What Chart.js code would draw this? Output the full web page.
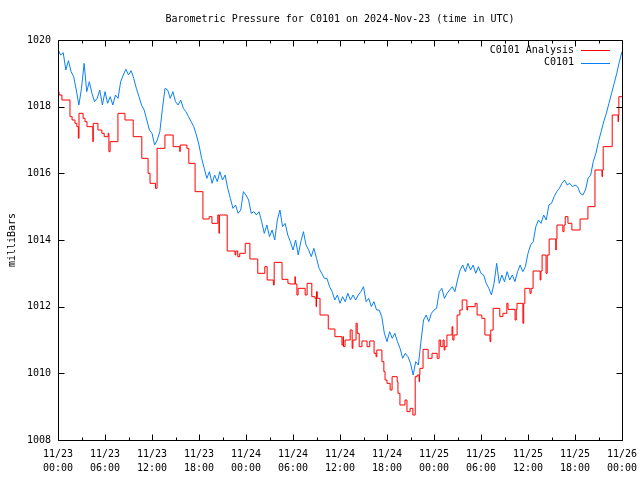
<!DOCTYPE html>
<html>
<head>
<meta charset="utf-8">
<script src="https://cdn.jsdelivr.net/npm/chart.js@4/dist/chart.umd.min.js"></script>
<style>
html,body{margin:0;padding:0;background:#fff;}
canvas{display:block;}
</style>
</head>
<body>
<canvas id="c" width="640" height="480"></canvas>
<script>
const titleText="Barometric Pressure for C0101 on 2024-Nov-23 (time in UTC)";
const yTitle="milliBars";
const xDates=["11/23","11/23","11/23","11/23","11/24","11/24","11/24","11/24","11/25","11/25","11/25","11/25","11/26"];
const xTimes=["00:00","06:00","12:00","18:00","00:00","06:00","12:00","18:00","00:00","06:00","12:00","18:00","00:00"];
const seriesNames=["C0101 Analysis","C0101"];

/* analysis: hours since 11/23 00:00 where the step changes, and the value held from there */
const redHours=[0,0.13,0.5,1.53,1.8,2.17,2.4,2.6,2.68,3.2,
3.45,3.7,4.45,4.5,5.1,5.6,5.9,6.4,6.5,6.65,
7.65,8.55,9.6,10.7,11.5,11.75,12.45,12.65,13.65,14.7,
15.55,15.6,16.45,16.7,17.5,18.5,19.3,19.65,20.4,20.55,
20.6,21.6,22.6,22.7,22.95,23.2,23.9,24.5,25.5,26.4,
26.7,27.5,27.6,28.6,29.35,29.6,30.25,30.3,30.5,30.65,
31.55,31.8,32.4,32.8,32.95,33.0,33.1,33.45,34.5,35.35,
36.25,36.4,36.45,36.65,37.3,37.55,37.65,38.05,38.2,38.45,
38.8,39.45,39.8,40.35,40.6,40.7,41.35,41.6,41.75,42.0,
42.4,42.65,43.3,43.4,43.65,44.3,44.55,44.95,45.3,45.6,
45.85,46.1,46.15,46.2,46.6,47.25,47.75,48.4,48.65,48.85,
49.15,49.3,49.4,49.65,50.3,50.4,50.55,50.95,51.3,51.6,
52.2,52.3,53.25,53.5,54.1,54.5,55.15,55.25,55.55,56.4,
56.8,57.3,57.45,58.35,58.5,58.6,59.35,59.45,59.6,60.25,
60.4,60.65,61.55,61.65,61.8,62.3,62.45,62.7,63.55,63.6,
63.7,64.45,64.6,64.75,65.1,65.6,66.65,67.65,68.55,69.45,
69.5,69.6,70.75,71.5,71.55,71.6,72];
const redValues=[1018.45,1018.35,1018.2,1017.7,1017.6,1017.5,1017.4,1017.05,1017.8,1017.65,
1017.55,1017.4,1016.95,1017.5,1017.3,1017.2,1017.1,1017.2,1016.65,1016.95,
1017.8,1017.6,1017.1,1016.45,1016.0,1015.7,1015.55,1016.75,1017.15,1016.8,
1016.65,1016.85,1016.75,1016.3,1015.45,1014.63,1014.7,1014.5,1014.75,1014.2,
1014.75,1013.67,1013.55,1013.67,1013.5,1013.6,1013.9,1013.43,1013.0,1013.2,
1012.8,1012.65,1013.33,1012.82,1012.7,1012.68,1012.9,1012.68,1012.35,1012.55,
1012.35,1012.7,1012.3,1012.25,1012.0,1012.45,1012.25,1011.75,1011.33,1011.1,
1010.85,1011.1,1010.8,1011.0,1011.3,1010.75,1011.0,1011.5,1011.2,1010.8,
1010.97,1010.8,1010.97,1010.6,1010.5,1010.7,1010.35,1010.05,1009.8,1009.7,
1009.5,1009.9,1009.75,1009.4,1009.05,1009.2,1008.85,1008.95,1008.75,1009.9,
1009.95,1009.75,1009.95,1010.15,1010.72,1010.45,1010.6,1010.45,1011.0,1010.8,
1011.0,1010.7,1010.8,1011.15,1011.4,1011.0,1011.15,1011.75,1011.9,1012.2,
1011.9,1012.0,1012.1,1011.75,1011.65,1011.15,1010.95,1011.3,1011.95,1011.7,
1011.8,1012.1,1011.92,1011.6,1011.92,1012.1,1011.5,1012.1,1012.55,1012.4,
1012.55,1013.07,1012.8,1013.07,1013.55,1013.0,1013.55,1014.03,1013.7,1014.03,
1014.45,1014.25,1014.45,1014.7,1014.5,1014.3,1014.63,1015.0,1016.1,1015.9,
1016.1,1016.8,1017.75,1017.55,1017.75,1018.3,1018.3];

/* station: one value every 20 minutes, one row per hour */
const blueStep=1/3;
const blueValues=[
1019.72,1019.55,1019.62,
1019.1,1019.38,1019.05,
1018.9,1018.5,1018.05,
1018.55,1019.3,1018.45,
1018.75,1018.4,1018.15,
1018.25,1018.5,1018.05,
1018.45,1018.1,1018.3,
1018.05,1018.35,1018.25,
1018.75,1018.95,1019.12,
1018.95,1019.08,1018.85,
1018.55,1018.3,1018.05,
1017.9,1017.6,1017.3,
1017.2,1016.85,1017.0,
1017.25,1017.95,1018.55,
1018.5,1018.25,1018.45,
1018.15,1018.05,1018.2,
1017.95,1017.85,1017.7,
1017.55,1017.4,1017.15,
1016.85,1016.45,1016.15,
1015.85,1016.05,1015.7,
1015.95,1015.75,1016.05,
1015.8,1015.95,1015.55,
1015.25,1014.95,1015.05,
1014.8,1014.9,1015.45,
1015.35,1015.2,1014.8,
1014.85,1014.75,1014.85,
1014.55,1014.2,1014.45,
1014.1,1014.3,1014.0,
1014.6,1014.9,1014.4,
1014.5,1014.15,1013.95,
1013.7,1014.0,1013.55,
1013.95,1014.25,1013.85,
1013.7,1013.5,1013.75,
1013.45,1013.15,1013.0,
1012.85,1012.85,1012.6,
1012.45,1012.2,1012.35,
1012.1,1012.3,1012.15,
1012.4,1012.2,1012.35,
1012.2,1012.35,1012.45,
1012.6,1012.15,1012.25,
1012.0,1012.15,1011.9,
1011.9,1011.7,1011.2,
1010.95,1011.25,1011.05,
1011.2,1010.95,1010.75,
1010.45,1010.6,1010.5,
1010.3,1009.95,1010.35,
1010.25,1010.95,1011.6,
1011.75,1011.55,1011.8,
1011.9,1011.95,1012.45,
1012.55,1012.25,1012.4,
1012.5,1012.6,1012.45,
1012.8,1013.1,1013.25,
1013.05,1013.3,1013.1,
1013.25,1013.0,1013.2,
1013.0,1012.95,1012.7,
1012.55,1012.35,1012.7,
1013.3,1012.7,1012.95,
1012.75,1013.05,1012.8,
1012.95,1012.75,1013.05,
1013.25,1013.05,1013.2,
1013.6,1013.85,1013.95,
1014.4,1014.6,1014.5,
1014.75,1014.6,1015.05,
1015.1,1015.3,1015.45,
1015.55,1015.7,1015.8,
1015.65,1015.7,1015.6,
1015.65,1015.6,1015.4,
1015.35,1015.5,1015.85,
1015.95,1016.35,1016.6,
1016.95,1017.25,1017.55,
1017.8,1018.1,1018.4,
1018.7,1019.0,1019.35,
1019.65];

const redColor="#ff0000";
const blueColor="#0a80f5";
const monoFont="'DejaVu Sans Mono','Liberation Mono',monospace";

const redPts=redHours.map((h,i)=>({x:h,y:redValues[i]}));
const bluePts=blueValues.map((v,i)=>({x:i*blueStep,y:v}));

/* frame, inward ticks, title, legend and y title like the original plot */
const decor={
id:"decor",
afterDraw(chart){
const ctx=chart.ctx,a=chart.chartArea,xs=chart.scales.x,ys=chart.scales.y;
const L=Math.round(a.left)+0.5,R=Math.round(a.right)+0.5,T=Math.round(a.top)+0.5,B=Math.round(a.bottom)+0.5;
ctx.save();
ctx.strokeStyle="#000";
ctx.lineWidth=1;
ctx.beginPath();
ctx.rect(L,T,R-L,B-T);
xs.ticks.forEach(t=>{
let px=Math.round(xs.getPixelForValue(t.value))+0.5;
ctx.moveTo(px,B);ctx.lineTo(px,B-6);
ctx.moveTo(px,T);ctx.lineTo(px,T+6);
if(t.value+3<xs.max){
let pm=Math.round(xs.getPixelForValue(t.value+3))+0.5;
ctx.moveTo(pm,B);ctx.lineTo(pm,B-3);
ctx.moveTo(pm,T);ctx.lineTo(pm,T+3);
}
});
ys.ticks.forEach(t=>{
let py=Math.round(ys.getPixelForValue(t.value))+0.5;
ctx.moveTo(L,py);ctx.lineTo(L+6,py);
ctx.moveTo(R,py);ctx.lineTo(R-6,py);
});
ctx.stroke();

ctx.fillStyle="#000";
ctx.font="10px "+monoFont;
ctx.textAlign="center";
ctx.textBaseline="middle";
ctx.fillText(titleText,(a.left+a.right)/2,19);

ctx.save();
ctx.translate(12,(a.top+a.bottom)/2);
ctx.rotate(-Math.PI/2);
ctx.fillText(yTitle,0,0);
ctx.restore();

ctx.textAlign="right";
[redColor,blueColor].forEach((col,i)=>{
let y=50+i*12.5;
ctx.fillStyle="#000";
ctx.fillText(seriesNames[i],574,y);
ctx.strokeStyle=col;
ctx.beginPath();
ctx.moveTo(581,Math.round(y)+0.5);
ctx.lineTo(610,Math.round(y)+0.5);
ctx.stroke();
});
ctx.restore();
}
};

new Chart(document.getElementById("c"),{
type:"line",
data:{datasets:[
{label:seriesNames[1],data:bluePts,borderColor:blueColor,borderWidth:1,pointRadius:0,tension:0},
{label:seriesNames[0],data:redPts,borderColor:redColor,borderWidth:1,pointRadius:0,stepped:true}
]},
options:{
responsive:false,
animation:false,
devicePixelRatio:1,
layout:{padding:{top:40,right:18,left:0,bottom:0}},
plugins:{legend:{display:false},title:{display:false},tooltip:{enabled:false}},
scales:{
x:{type:"linear",min:0,max:72,
grid:{display:false,drawTicks:false},border:{display:false},
ticks:{stepSize:6,autoSkip:false,maxRotation:0,padding:7,color:"#000",
font:{family:monoFont,size:10,lineHeight:1.4},
callback:v=>[xDates[v/6],xTimes[v/6]]},
afterFit(s){s.height=40;s.paddingLeft=0;s.paddingRight=0;}},
y:{min:1008,max:1020,
grid:{display:false,drawTicks:false},border:{display:false},
ticks:{stepSize:2,padding:7,color:"#000",font:{family:monoFont,size:10},
callback:v=>String(v)},
afterFit(s){s.width=58;s.paddingTop=0;s.paddingBottom=0;}}
}
},
plugins:[decor]
});
</script>
</body>
</html>
